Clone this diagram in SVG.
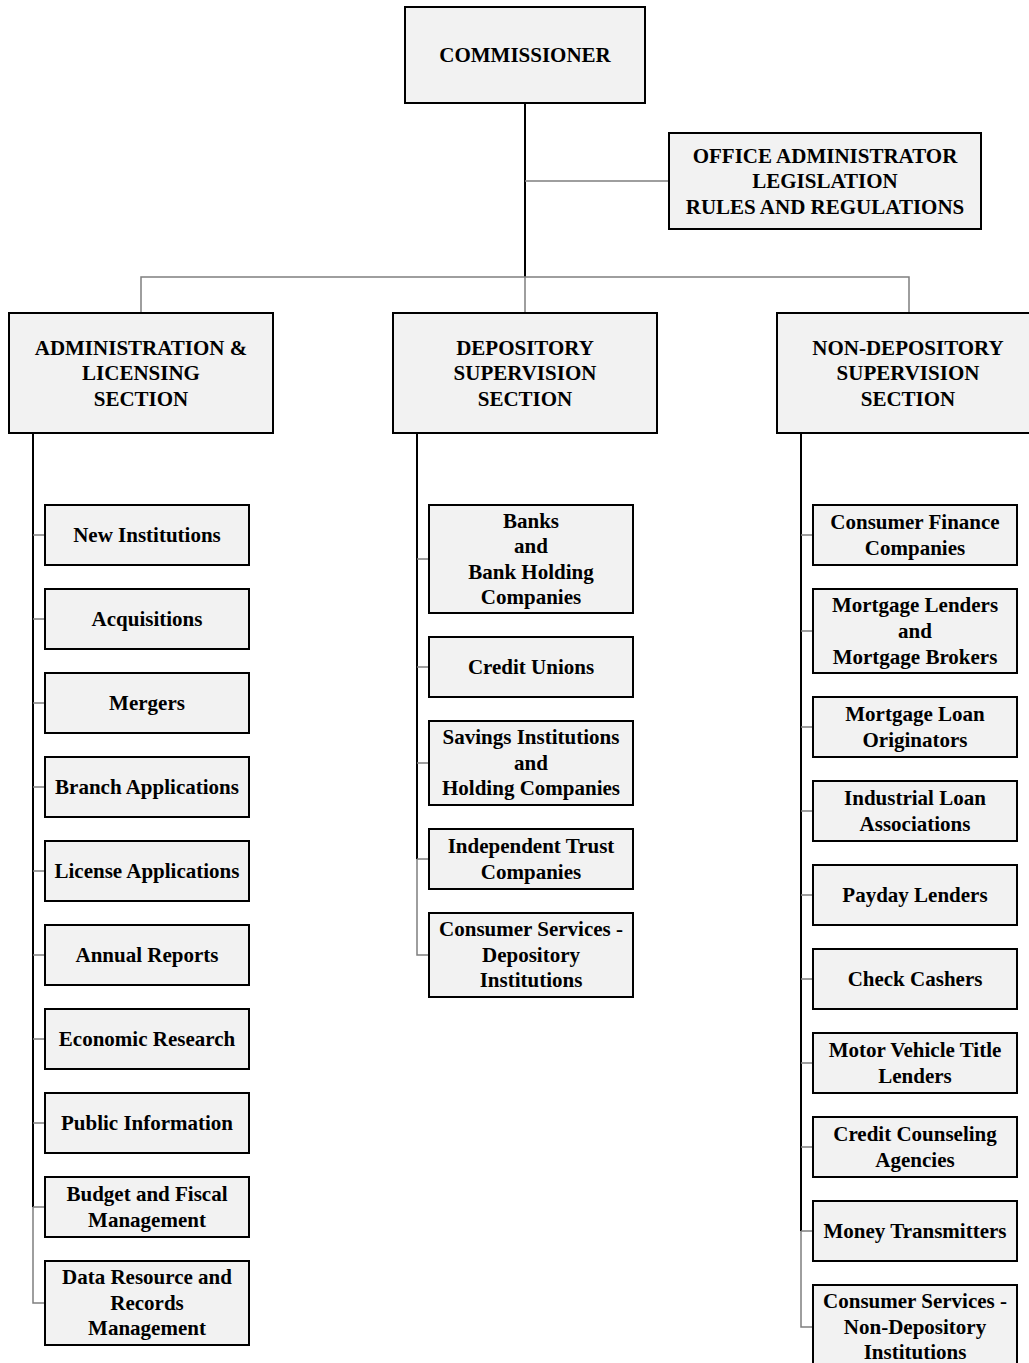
<svg xmlns="http://www.w3.org/2000/svg" width="1029" height="1363" viewBox="0 0 1029 1363">
<style>
.box{fill:#f2f2f2;stroke:#000;stroke-width:2}
.t{font-family:"Liberation Serif","Times New Roman",serif;font-weight:bold;font-size:21px;fill:#000;text-anchor:middle}
.g{stroke:#7f7f7f;stroke-width:1.5;fill:none}
.k{stroke:#000;stroke-width:2;fill:none}
</style>
<rect width="1029" height="1363" fill="#fff"/>
<g id="connectors">
<path class="k" d="M525 103V277"/>
<path class="g" d="M525 181H669M141 313V277H909V313M525 277V313"/>
<path class="k" d="M33 433V1207"/>
<path class="g" d="M33 535H45M33 619H45M33 703H45M33 787H45M33 871H45M33 955H45M33 1039H45M33 1123H45M33 1207H45M33 1207V1303H45"/>
<path class="k" d="M417 433V859"/>
<path class="g" d="M417 559H429M417 667H429M417 763H429M417 859H429M417 859V955H429"/>
<path class="k" d="M801 433V1231"/>
<path class="g" d="M801 535H813M801 631H813M801 727H813M801 811H813M801 895H813M801 979H813M801 1063H813M801 1147H813M801 1231H813M801 1231V1327H813"/>
</g>
<g id="commissioner"><rect class="box" x="405" y="7" width="240" height="96"/><text class="t" x="525" y="62">COMMISSIONER</text></g>
<g id="office"><rect class="box" x="669" y="133" width="312" height="96"/><text class="t" x="825" y="163">OFFICE ADMINISTRATOR</text><text class="t" x="825" y="188">LEGISLATION</text><text class="t" x="825" y="214">RULES AND REGULATIONS</text></g>
<g id="admin"><rect class="box" x="9" y="313" width="264" height="120"/><text class="t" x="141" y="355">ADMINISTRATION &amp;</text><text class="t" x="141" y="380">LICENSING</text><text class="t" x="141" y="406">SECTION</text></g>
<g id="depository"><rect class="box" x="393" y="313" width="264" height="120"/><text class="t" x="525" y="355">DEPOSITORY</text><text class="t" x="525" y="380">SUPERVISION</text><text class="t" x="525" y="406">SECTION</text></g>
<g id="nondepository"><rect class="box" x="777" y="313" width="264" height="120"/><text class="t" x="908" y="355">NON-DEPOSITORY</text><text class="t" x="908" y="380">SUPERVISION</text><text class="t" x="908" y="406">SECTION</text></g>
<g id="new-institutions"><rect class="box" x="45" y="505" width="204" height="60"/><text class="t" x="147" y="542">New Institutions</text></g>
<g id="acquisitions"><rect class="box" x="45" y="589" width="204" height="60"/><text class="t" x="147" y="626">Acquisitions</text></g>
<g id="mergers"><rect class="box" x="45" y="673" width="204" height="60"/><text class="t" x="147" y="710">Mergers</text></g>
<g id="branch-applications"><rect class="box" x="45" y="757" width="204" height="60"/><text class="t" x="147" y="794">Branch Applications</text></g>
<g id="license-applications"><rect class="box" x="45" y="841" width="204" height="60"/><text class="t" x="147" y="878">License Applications</text></g>
<g id="annual-reports"><rect class="box" x="45" y="925" width="204" height="60"/><text class="t" x="147" y="962">Annual Reports</text></g>
<g id="economic-research"><rect class="box" x="45" y="1009" width="204" height="60"/><text class="t" x="147" y="1046">Economic Research</text></g>
<g id="public-information"><rect class="box" x="45" y="1093" width="204" height="60"/><text class="t" x="147" y="1130">Public Information</text></g>
<g id="budget"><rect class="box" x="45" y="1177" width="204" height="60"/><text class="t" x="147" y="1201">Budget and Fiscal</text><text class="t" x="147" y="1227">Management</text></g>
<g id="data-resource"><rect class="box" x="45" y="1261" width="204" height="84"/><text class="t" x="147" y="1284">Data Resource and</text><text class="t" x="147" y="1310">Records</text><text class="t" x="147" y="1335">Management</text></g>
<g id="banks"><rect class="box" x="429" y="505" width="204" height="108"/><text class="t" x="531" y="528">Banks</text><text class="t" x="531" y="553">and</text><text class="t" x="531" y="579">Bank Holding</text><text class="t" x="531" y="604">Companies</text></g>
<g id="credit-unions"><rect class="box" x="429" y="637" width="204" height="60"/><text class="t" x="531" y="674">Credit Unions</text></g>
<g id="savings"><rect class="box" x="429" y="721" width="204" height="84"/><text class="t" x="531" y="744">Savings Institutions</text><text class="t" x="531" y="770">and</text><text class="t" x="531" y="795">Holding Companies</text></g>
<g id="independent-trust"><rect class="box" x="429" y="829" width="204" height="60"/><text class="t" x="531" y="853">Independent Trust</text><text class="t" x="531" y="879">Companies</text></g>
<g id="consumer-dep"><rect class="box" x="429" y="913" width="204" height="84"/><text class="t" x="531" y="936">Consumer Services -</text><text class="t" x="531" y="962">Depository</text><text class="t" x="531" y="987">Institutions</text></g>
<g id="consumer-finance"><rect class="box" x="813" y="505" width="204" height="60"/><text class="t" x="915" y="529">Consumer Finance</text><text class="t" x="915" y="555">Companies</text></g>
<g id="mortgage-lenders"><rect class="box" x="813" y="589" width="204" height="84"/><text class="t" x="915" y="612">Mortgage Lenders</text><text class="t" x="915" y="638">and</text><text class="t" x="915" y="664">Mortgage Brokers</text></g>
<g id="mortgage-loan"><rect class="box" x="813" y="697" width="204" height="60"/><text class="t" x="915" y="721">Mortgage Loan</text><text class="t" x="915" y="747">Originators</text></g>
<g id="industrial-loan"><rect class="box" x="813" y="781" width="204" height="60"/><text class="t" x="915" y="805">Industrial Loan</text><text class="t" x="915" y="831">Associations</text></g>
<g id="payday"><rect class="box" x="813" y="865" width="204" height="60"/><text class="t" x="915" y="902">Payday Lenders</text></g>
<g id="check-cashers"><rect class="box" x="813" y="949" width="204" height="60"/><text class="t" x="915" y="986">Check Cashers</text></g>
<g id="motor-vehicle"><rect class="box" x="813" y="1033" width="204" height="60"/><text class="t" x="915" y="1057">Motor Vehicle Title</text><text class="t" x="915" y="1083">Lenders</text></g>
<g id="credit-counseling"><rect class="box" x="813" y="1117" width="204" height="60"/><text class="t" x="915" y="1141">Credit Counseling</text><text class="t" x="915" y="1167">Agencies</text></g>
<g id="money-transmitters"><rect class="box" x="813" y="1201" width="204" height="60"/><text class="t" x="915" y="1238">Money Transmitters</text></g>
<g id="consumer-nondep"><rect class="box" x="813" y="1285" width="204" height="84"/><text class="t" x="915" y="1308">Consumer Services -</text><text class="t" x="915" y="1334">Non-Depository</text><text class="t" x="915" y="1359">Institutions</text></g>
</svg>
